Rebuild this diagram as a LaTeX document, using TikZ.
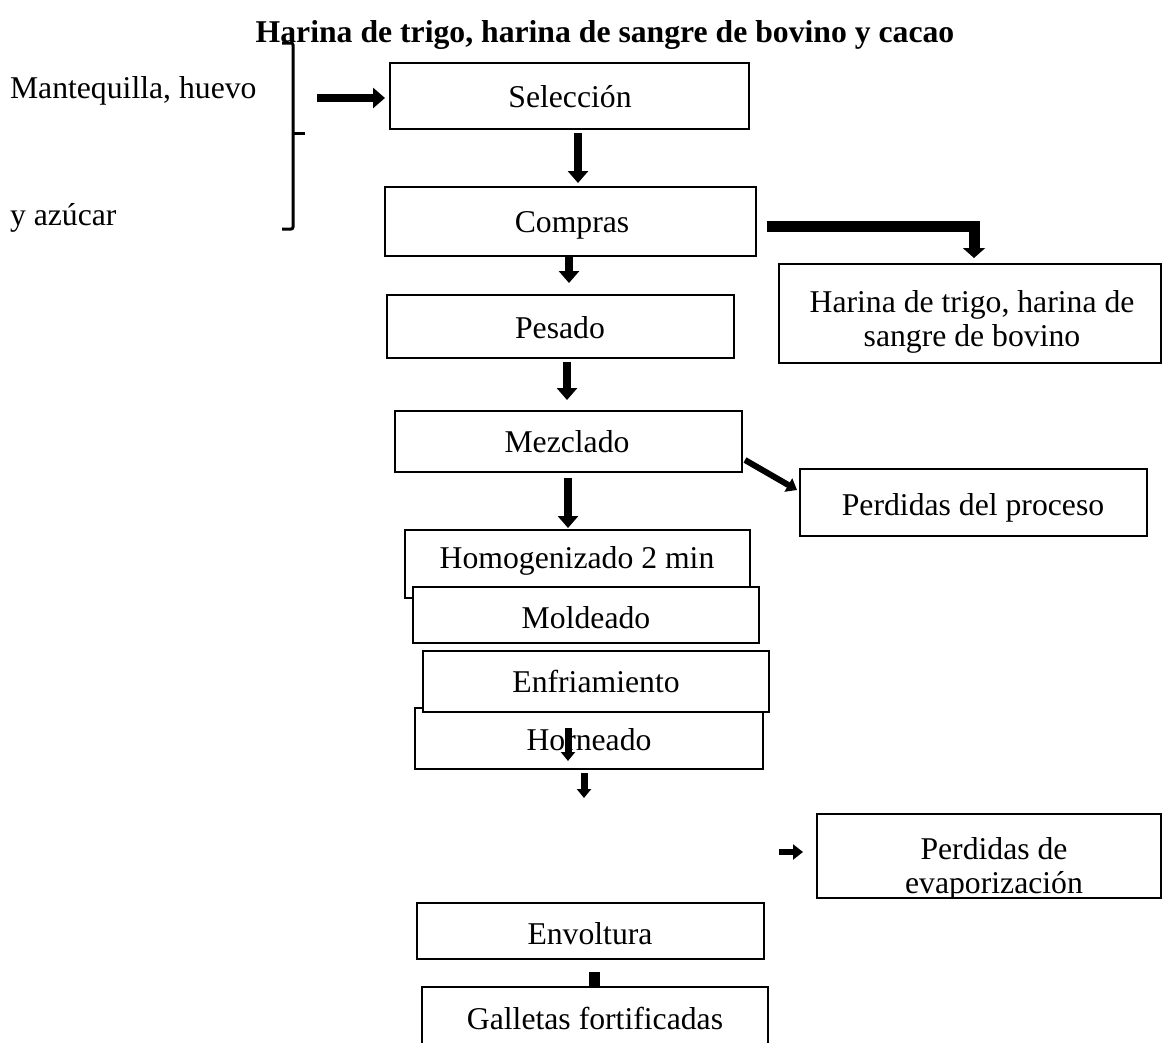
\documentclass[tikz,border=0pt]{standalone}
\usepackage{fontspec}
\setmainfont{Liberation Serif}
\usetikzlibrary{arrows.meta,calc}
\begin{document}
\begin{tikzpicture}[x=1pt,y=-1pt,
  box/.style={draw, line width=2pt, fill=white, inner sep=0pt, outer sep=0pt},
  txt/.style={font=\fontsize{31.7}{34}\selectfont, inner sep=0pt, outer sep=0pt, anchor=base},
  flow/.style={line width=8pt, -{Triangle[width=20pt,length=12pt]}},
  thinflow/.style={line width=6pt, -{Triangle[width=15pt,length=10pt]}},
  lflow/.style={line width=11pt, line join=miter, -{Triangle[width=22pt,length=10pt]}},
  smallflow/.style={line width=7pt, -{Triangle[width=14pt,length=9pt]}}
]
\useasboundingbox (0,0) rectangle (1164,1042);
\clip (0,0) rectangle (1164,1042);

% title and side texts
\node[txt, font=\fontsize{31.7}{34}\selectfont\bfseries] (title) at (605,42) {Harina de trigo, harina de sangre de bovino y cacao};
\node[txt, anchor=base west] (mant) at (10,98) {Mantequilla, huevo};
\node[txt, anchor=base west] (azu) at (10,225) {y azúcar};

% bracket
\draw[line width=3pt, rounded corners=2pt] (282,43) -- (293,43) -- (293,229) -- (282,229);
\coordinate (brk) at (293,133);
\draw[line width=3pt] (brk) -- ++(12,0);

% boxes
\node[box, minimum width=359pt, minimum height=66pt] (sel) at (569.5,96) {};
\node[txt] (selt) at (570,107) {Selección};
\node[box, minimum width=371pt, minimum height=69pt] (comp) at (570.5,221.5) {};
\node[txt] (compt) at (572,232) {Compras};
\node[box, minimum width=347pt, minimum height=63pt] (pes) at (560.5,326.5) {};
\node[txt] (pest) at (560,338) {Pesado};
\node[box, minimum width=347pt, minimum height=61pt] (mez) at (568.5,441.5) {};
\node[txt] (mezt) at (567,452) {Mezclado};
\node[box, minimum width=345pt, minimum height=68pt] (hom) at (577.5,564) {};
\node[txt] (homt) at (577,568) {Homogenizado 2 min};
\node[box, minimum width=346pt, minimum height=56pt] (mol) at (586,615) {};
\node[txt] (molt) at (586,628) {Moldeado};
\node[box, minimum width=348pt, minimum height=61pt] (horn) at (589,738.5) {};
\node[txt] (hornt) at (589,750) {Horneado};
\node[box, minimum width=346pt, minimum height=61pt] (enf) at (596,681.5) {};
\node[txt] (enft) at (596,692) {Enfriamiento};
\node[box, minimum width=347pt, minimum height=56pt] (env) at (590.5,931) {};
\node[txt] (envt) at (590,944) {Envoltura};

\node[box, minimum width=382pt, minimum height=99pt] (har) at (970,313.5) {};
\node[txt, align=center] (hart) at (972,346) {Harina de trigo, harina de\\sangre de bovino};
\node[box, minimum width=347pt, minimum height=67pt] (pproc) at (973.5,502.5) {};
\node[txt] (pproct) at (973,515) {Perdidas del proceso};
\node[box, minimum width=344pt, minimum height=84pt] (pevap) at (989,856) {};
\begin{scope}
\clip (818,815) rectangle (1160,897);
\node[txt, align=center] (pevapt) at (994,893) {Perdidas de\\evaporización};
\end{scope}

% connectors
\coordinate (bin) at (317,98);
\draw[flow, shorten >=5pt] (bin) -- (bin -| sel.west);
\draw[flow] ($(sel.south)+(8.5,4)$) -- ($(comp.north)+(7.5,-4)$);
\draw[flow] ($(comp.south)+(-1.5,1)$) -- ($(pes.north)+(8.5,-12)$);
\draw[flow] ($(pes.south)+(6.5,4)$) -- ($(mez.north)+(-1.5,-11)$);
\draw[flow] ($(mez.south)+(-0.5,6)$) -- ($(hom.north)+(-9.5,-2)$);
\draw[thinflow] ($(mez.south east)+(3,-12)$) -- ($(pproc.west)+(-3,-12.5)$);
\draw[lflow] ($(comp.east)+(11,4.5)$) -| ($(har.north)+(4,-6)$);
\draw[smallflow] ($(horn.center)+(-21,-10.5)$) -- ($(horn.center)+(-21,22.5)$);
\coordinate (hend) at (584,798);
\draw[smallflow] ($(horn.south)+(-5,4)$) -- (hend);
\coordinate (evs) at (779,852);
\draw[thinflow] (evs) -- ($(pevap.west)+(-14,-4)$);

% last box
\coordinate (stubtop) at (594.5,972);
\node[box, minimum width=346pt, minimum height=63pt] (gal) at (595,1018.5) {};
\draw[line width=11pt] (stubtop) -- (stubtop |- gal.north);
\node[txt] (galt) at (595,1029) {Galletas fortificadas};
\end{tikzpicture}
\end{document}
